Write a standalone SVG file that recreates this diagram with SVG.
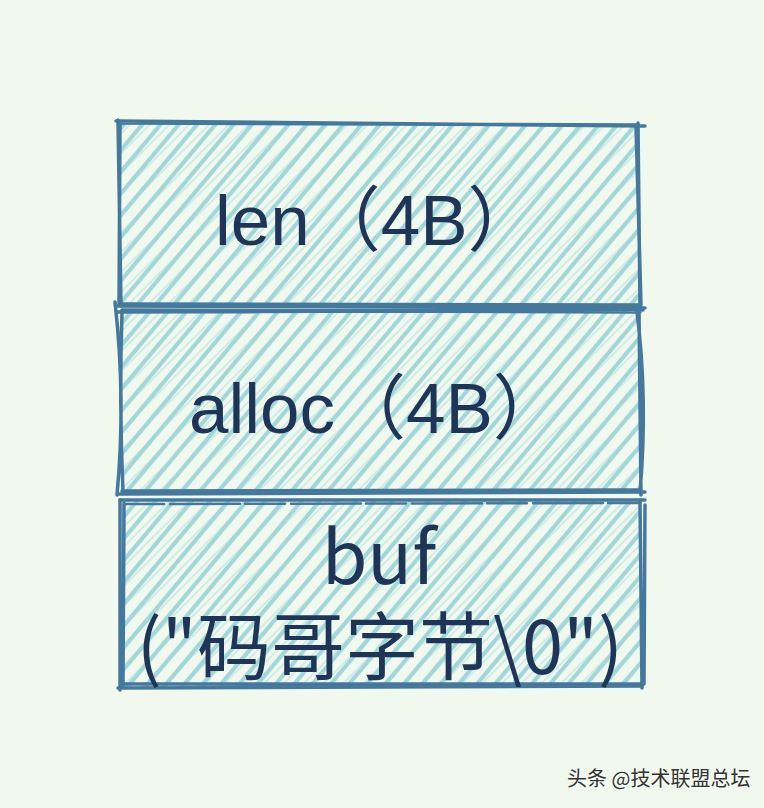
<svg xmlns="http://www.w3.org/2000/svg" width="764" height="808" viewBox="0 0 764 808">
<defs>
<style>
.edge{fill:none;stroke:#44799d;stroke-width:3.5;stroke-linecap:round;stroke-linejoin:round}
.thin{fill:none;stroke:#44799d;stroke-width:2.5;stroke-linecap:round}
.lbl{font-family:"Liberation Sans","Noto Sans CJK SC",sans-serif;font-size:71px;fill:#1e3557}
.cjk{font-family:"Noto Sans CJK SC",sans-serif;font-size:74px;fill:#1e3557;text-anchor:middle}
.wm{font-family:"Noto Sans CJK SC",sans-serif;font-size:20px}
</style>
<pattern id="hatch" width="14" height="14" patternUnits="userSpaceOnUse" patternTransform="rotate(40)">
<line x1="7" y1="-2" x2="7" y2="16" stroke="#a2d7d9" stroke-width="4.2"/>
</pattern>
<pattern id="hatch2" width="14" height="14" patternUnits="userSpaceOnUse" patternTransform="rotate(45) translate(5,0)">
<line x1="7" y1="-2" x2="7" y2="16" stroke="#a2d7d9" stroke-width="1.6" opacity="0.5"/>
</pattern>
</defs>
<rect width="764" height="808" fill="#f1f9ef"/>

<g id="len">
<path d="M119,123 L638,126 L640,307 L120,305 Z" fill="url(#hatch)"/>
<path d="M119,123 L638,126 L640,307 L120,305 Z" fill="url(#hatch2)"/>
<path class="edge" d="M116,121 L645,126 M119,123 L638,125"/>
<path class="edge" d="M638,123 L640,308 M636,126 L641,305"/>
<path class="edge" d="M118,306 L645,308 M122,304 L640,305"/>
<path class="edge" d="M118,120 L121,306 M120,124 L119,305"/>
<text class="lbl" x="215" y="245">len（4B）</text>
</g>

<g id="alloc">
<path d="M121,311 L640,311 L641,492 L121,493 Z" fill="url(#hatch)"/>
<path d="M121,311 L640,311 L641,492 L121,493 Z" fill="url(#hatch2)"/>
<path class="edge" d="M118,312 L643,310 M122,310 L640,312"/>
<path class="edge" d="M637,312 Q648,400 640,492 M639,310 L641,495"/>
<path class="edge" d="M118,494 L645,492 M122,491 L640,490"/>
<path class="edge" d="M115,302 Q126,400 117,495 M122,312 Q119,400 123,492"/>
<text class="lbl" x="189" y="433">alloc（4B）</text>
</g>

<g id="buf">
<path d="M122,501 L641,501 L642,686 L121,687 Z" fill="url(#hatch)"/>
<path d="M122,501 L641,501 L642,686 L121,687 Z" fill="url(#hatch2)"/>
<path class="edge" d="M120,500 L645,500"/>
<path class="thin" d="M124,504 L640,503" stroke-dasharray="40 6 70 5"/>
<path class="edge" d="M640,500 L642,688 M645,505 L644,684"/>
<path class="edge" d="M118,688 L642,686 M121,684 L640,684"/>
<path class="edge" d="M120,500 L120,690 M124,503 L123,686"/>
<text class="cjk"><tspan x="379" y="584">buf</tspan><tspan x="380" y="674">("码哥字节\0")</tspan></text>
</g>

<g id="watermark">
<text class="wm" x="568" y="787" fill="#ffffff">头条 @技术联盟总坛</text>
<text class="wm" x="567" y="786" fill="#333333">头条 @技术联盟总坛</text>
</g>
</svg>
